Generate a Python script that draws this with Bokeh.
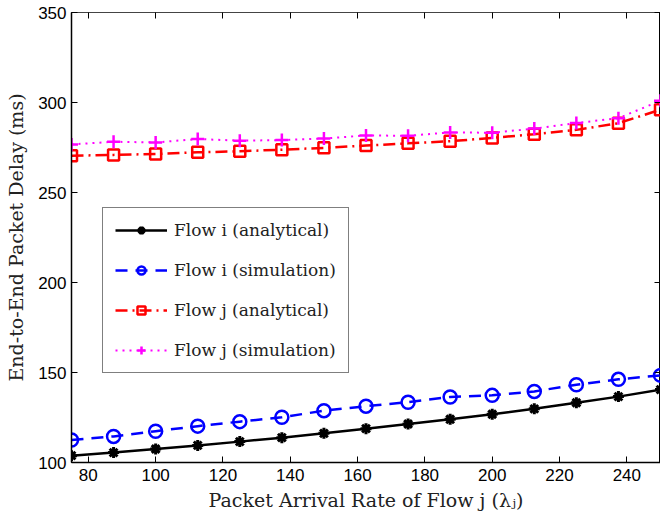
from bokeh.plotting import figure
from bokeh.models import Range1d, FixedTicker, LinearAxis, Legend, LegendItem, CustomJSTickFormatter
from bokeh.embed import file_html
from bokeh.resources import INLINE

rate = [75, 87.5, 100, 112.5, 125, 137.5, 150, 162.5, 175, 187.5, 200, 212.5, 225, 237.5, 250]
flow_i_analytical = [103.8, 105.5, 107.5, 109.5, 111.6, 113.8, 116.2, 118.8, 121.4, 124.0, 126.8, 129.8, 133.2, 136.6, 140.5]
flow_i_simulation = [112.5, 114.5, 117.4, 120.2, 122.7, 125.1, 128.8, 131.3, 133.5, 136.4, 137.3, 139.5, 143.2, 146.2, 148.4]
flow_j_analytical = [270.4, 270.9, 271.4, 272.3, 272.9, 273.8, 274.8, 276.1, 277.3, 278.5, 280.3, 282.4, 284.8, 288.5, 296.0]
flow_j_simulation = [276.7, 278.2, 277.8, 279.7, 278.8, 279.1, 280.0, 281.7, 281.5, 283.4, 283.2, 285.5, 288.6, 291.3, 301.0]

x_ticks = [80, 100, 120, 140, 160, 180, 200, 220, 240]
y_ticks = [100, 150, 200, 250, 300, 350]

p = figure(width=660, height=516, output_backend="svg", toolbar_location=None,
           x_range=Range1d(75, 250), y_range=Range1d(100, 350),
           min_border_left=71, min_border_top=12, min_border_right=0, min_border_bottom=54)
p.grid.visible = False
p.outline_line_color = "black"
p.outline_line_width = 1

for ax in (p.xaxis[0], p.yaxis[0]):
    ax.axis_line_width = 1.5
    ax.axis_line_color = "black"
    ax.major_tick_in = 6
    ax.major_tick_out = 0
    ax.minor_tick_line_color = None
    ax.major_label_text_font = "Liberation Sans"
    ax.major_label_text_font_size = "17px"
    ax.major_label_text_color = "black"
    ax.axis_label_text_font = "DejaVu Serif"
    ax.axis_label_text_font_size = "19px"
    ax.axis_label_text_font_style = "normal"
    ax.axis_label_text_color = "#222222"

p.xaxis[0].ticker = FixedTicker(ticks=x_ticks)
p.yaxis[0].ticker = FixedTicker(ticks=y_ticks)
p.xaxis[0].axis_label = "Packet Arrival Rate of Flow j (λⱼ)"
p.yaxis[0].axis_label = "End-to-End Packet Delay (ms)"
p.xaxis[0].major_label_standoff = 6
p.yaxis[0].major_label_standoff = 5
p.xaxis[0].axis_label_standoff = 5
p.yaxis[0].axis_label_standoff = 8

blank = CustomJSTickFormatter(code="return ''")
top = LinearAxis(ticker=FixedTicker(ticks=x_ticks), major_tick_in=6, major_tick_out=0,
                 minor_tick_line_color=None, formatter=blank,
                 major_label_standoff=0, axis_line_color="#444444")
right = LinearAxis(ticker=FixedTicker(ticks=y_ticks), major_tick_in=6, major_tick_out=0,
                   minor_tick_line_color=None, formatter=blank,
                   major_label_standoff=0, axis_line_color="#444444")
p.add_layout(top, "above")
p.add_layout(right, "right")

l1 = p.line(rate, flow_i_analytical, line_color="black", line_width=2.5)
m1 = p.scatter(rate, flow_i_analytical, marker="asterisk", size=11, line_color="black", line_width=3)
l2 = p.line(rate, flow_i_simulation, line_color="blue", line_width=2.5, line_dash="12 8")
m2 = p.scatter(rate, flow_i_simulation, marker="circle", size=13, line_color="blue", fill_color=None, line_width=2.5)
l3 = p.line(rate, flow_j_analytical, line_color="red", line_width=2.5, line_dash="12 5 2 5")
m3 = p.scatter(rate, flow_j_analytical, marker="square", size=11, line_color="red", fill_color=None, line_width=2.5)
l4 = p.line(rate, flow_j_simulation, line_color="magenta", line_width=2, line_dash="2 5")
m4 = p.scatter(rate, flow_j_simulation, marker="cross", size=13, line_color="magenta", line_width=2.5)

legend = Legend(items=[
    LegendItem(label="Flow i (analytical)", renderers=[l1, m1]),
    LegendItem(label="Flow i (simulation)", renderers=[l2, m2]),
    LegendItem(label="Flow j (analytical)", renderers=[l3, m3]),
    LegendItem(label="Flow j (simulation)", renderers=[l4, m4]),
], location=(31, 89))
legend.border_line_color = "black"
legend.border_line_width = 1
legend.background_fill_color = "white"
legend.background_fill_alpha = 1
legend.label_text_font = "DejaVu Serif"
legend.label_text_font_size = "17px"
legend.label_text_color = "#222222"
legend.glyph_width = 52
legend.glyph_height = 20
legend.label_height = 20
legend.spacing = 20
legend.padding = 12
legend.margin = 0
legend.label_standoff = 7
p.add_layout(legend, "center")

open("out.html", "w").write(file_html(p, INLINE))
